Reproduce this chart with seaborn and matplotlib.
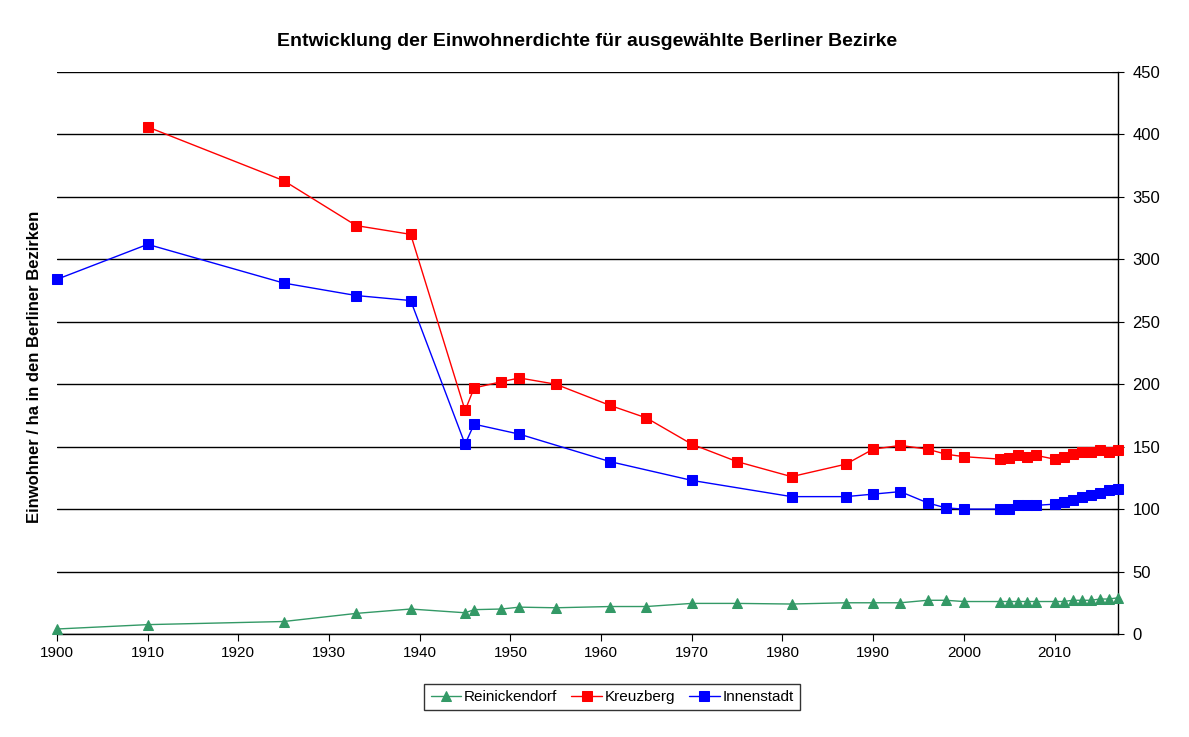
import numpy as np
import pandas as pd
import seaborn as sns
import matplotlib.pyplot as plt

# Einwohner / ha
years_rd = [1900, 1910, 1925, 1933, 1939, 1945, 1946, 1949, 1951, 1955, 1961, 1965,
            1970, 1975, 1981, 1987, 1990, 1993, 1996, 1998, 2000, 2004, 2005, 2006,
            2007, 2008, 2010, 2011, 2012, 2013, 2014, 2015, 2016, 2017]
reinickendorf = [4, 7.5, 10, 16.5, 20, 17, 19.5, 20, 21.5, 21, 22, 22,
                 24.5, 24.5, 24, 25, 25, 25, 27, 27, 26, 26, 26, 26,
                 26, 26, 26, 26, 27, 27, 27, 28, 28, 29]

years_kb = [1910, 1925, 1933, 1939, 1945, 1946, 1949, 1951, 1955, 1961, 1965,
            1970, 1975, 1981, 1987, 1990, 1993, 1996, 1998, 2000, 2004, 2005, 2006,
            2007, 2008, 2010, 2011, 2012, 2013, 2014, 2015, 2016, 2017]
kreuzberg = [406, 363, 327, 320, 179, 197, 202, 205, 200, 183, 173,
             152, 138, 126, 136, 148, 151, 148, 144, 142, 140, 141, 143,
             142, 143, 140, 142, 144, 146, 146, 147, 146, 147]

years_is = [1900, 1910, 1925, 1933, 1939, 1945, 1946, 1951, 1961, 1970, 1981,
            1987, 1990, 1993, 1996, 1998, 2000, 2004, 2005, 2006, 2007, 2008,
            2010, 2011, 2012, 2013, 2014, 2015, 2016, 2017]
innenstadt = [284, 312, 281, 271, 267, 152, 168, 160, 138, 123, 110,
              110, 112, 114, 105, 101, 100, 100, 100, 103, 103, 103,
              104, 106, 107, 110, 111, 113, 115, 116]

sns.set_style("white")
plt.rcParams['font.family'] = ['Liberation Sans', 'DejaVu Sans']
plt.rcParams['text.color'] = 'black'
plt.rcParams['axes.labelcolor'] = 'black'
plt.rcParams['xtick.color'] = 'black'
plt.rcParams['ytick.color'] = 'black'

fig = plt.figure(figsize=(11.89, 7.37), dpi=100)
ax = fig.add_axes([57 / 1189, 1 - 634 / 737, (1118 - 57) / 1189, (634 - 72) / 737])

series = [
    ("Reinickendorf", years_rd, reinickendorf, "#339966", "^", 7),
    ("Kreuzberg", years_kb, kreuzberg, "#ff0000", "s", 7),
    ("Innenstadt", years_is, innenstadt, "#0000ff", "s", 7),
]
for name, yrs, vals, col, mk, ms in series:
    sns.lineplot(x=yrs, y=vals, ax=ax, color=col, marker=mk, markersize=ms,
                 markeredgecolor=col, linewidth=1, label=name, legend=False,
                 clip_on=False, zorder=3)

ax.set_xlim(1900, 2017)
ax.set_ylim(0, 450)
ax.set_xticks(np.arange(1900, 2011, 10))
ax.set_yticks(np.arange(0, 451, 50))
ax.yaxis.tick_right()
ax.tick_params(axis='x', labelsize=11, direction='out', length=5, color='black',
               labelcolor='black', bottom=True)
ax.tick_params(axis='y', labelsize=12, direction='inout', length=8, pad=6.5,
               color='black', labelcolor='black', right=True)
ax.grid(axis='y', color='black', linewidth=1)
ax.grid(axis='x', visible=False)
ax.set_axisbelow(True)
for s in ['top', 'left']:
    ax.spines[s].set_visible(False)
for s in ['right', 'bottom']:
    ax.spines[s].set_color('black')
    ax.spines[s].set_linewidth(1)

ax.set_title("Entwicklung der Einwohnerdichte für ausgewählte Berliner Bezirke",
             fontsize=14, fontweight='bold', pad=19, color='black')
ax.yaxis.set_label_position('left')
ax.set_ylabel("Einwohner / ha in den Berliner Bezirken", fontsize=12,
              fontweight='bold', color='black')
ax.yaxis.set_label_coords(-0.0145, 0.475)

handles, labels = ax.get_legend_handles_labels()
leg = fig.legend(handles, labels, loc='center', bbox_to_anchor=(0.515, 0.054),
                 ncol=3, fontsize=11, frameon=True, fancybox=False,
                 edgecolor='black', handlelength=2.0, handletextpad=0.2,
                 columnspacing=0.9, borderpad=0.4)
leg.get_frame().set_linewidth(1)

fig.savefig("out.png", dpi=100)
